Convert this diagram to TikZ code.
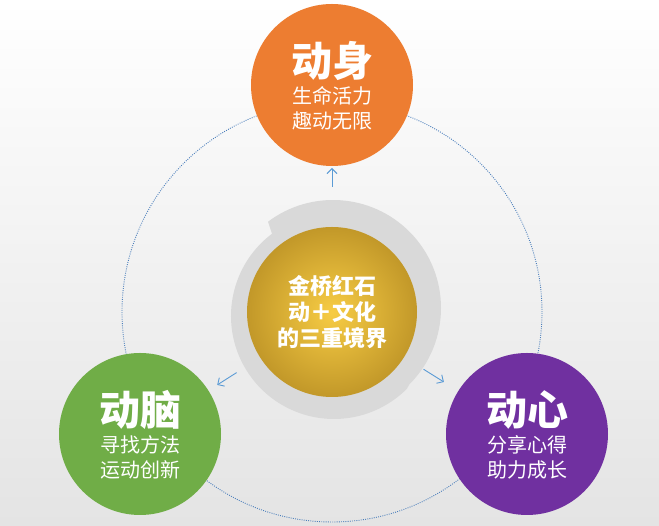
\documentclass[tikz,border=0pt]{standalone}
\usepackage{fontspec}
\newfontfamily\cjk{Noto Sans CJK SC}
\usetikzlibrary{calc,arrows.meta}
\definecolor{shenc}{HTML}{ED7D31}
\definecolor{naoc}{HTML}{70AD47}
\definecolor{xinc}{HTML}{7030A0}
\definecolor{ringc}{HTML}{D9D9D9}
\definecolor{goldin}{HTML}{F7CC44}
\definecolor{goldout}{HTML}{C29829}
\definecolor{arrc}{HTML}{5B9BD5}
\definecolor{dotc}{HTML}{4A7EBB}
\definecolor{bgbot}{HTML}{E4E4E4}

\begin{document}
\begin{tikzpicture}[x=1pt, y=1pt,
  ball/.style={circle, inner sep=0pt, minimum size=162pt},
  big/.style={text=white, font=\cjk\bfseries\fontsize{41}{41}\selectfont},
  small/.style={text=white, align=center, font=\cjk\fontsize{20}{25}\selectfont},
  arr/.style={arrc, -{Straight Barb[length=5pt,width=10pt]}, line width=0.9pt}]
  \fill[top color=white, bottom color=bgbot] (0,0) rectangle (659,526);
  \coordinate (hub) at (332,214);
  \draw[dotc, line width=0.9pt, dash pattern=on 0.9pt off 1.3pt] (hub) circle[radius=210pt];
  % gray ring behind the gold ball
  \fill[ringc] ($(333,218)+(-45:108pt)$) arc[start angle=-45, end angle=127, radius=108pt]
    -- ($(334,210)+(127:103pt)$) arc[start angle=127, end angle=315, radius=103pt] -- cycle;
  \node[ball, minimum size=170pt, inner color=goldin, outer color=goldout] (gold) at (hub) {};
  \node[text=white, align=center, font=\cjk\bfseries\fontsize{22}{26}\selectfont] (motto) at (hub) {金桥红石\\动＋文化\\的三重境界};
  \foreach \nm/\px/\py/\col/\ttl/\la/\lb in {shen/332/441/shenc/动身/生命活力/趣动无限,
      nao/140/92/naoc/动脑/寻找方法/运动创新, xin/527/92/xinc/动心/分享心得/助力成长}{
    \node[ball, fill=\col] (\nm) at (\px,\py) {};
    \node[big] (\nm-t) at ([yshift=24pt]\nm.center) {\ttl};
    \node[small] (\nm-s) at ([yshift=-23.5pt]\nm.center) {\la\\\lb};
  }
  \foreach \nm/\s/\e in {shen/125pt/144pt, nao/113pt/136pt, xin/108pt/132pt}
    \draw[arr] ($(hub)!\s!(\nm)$) -- ($(hub)!\e!(\nm)$);
\end{tikzpicture}
\end{document}
